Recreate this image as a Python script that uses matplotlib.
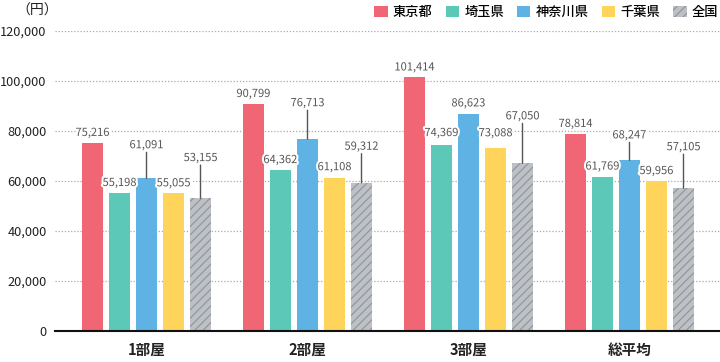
import matplotlib
matplotlib.use("Agg")
import matplotlib.pyplot as plt
import matplotlib.patheffects as pe
from matplotlib.patches import Patch
import numpy as np

plt.rcParams['font.family'] = ['Noto Sans CJK JP', 'DejaVu Sans']
plt.rcParams['hatch.linewidth'] = 0.8

categories = ['1部屋', '2部屋', '3部屋', '総平均']
series_names = ['東京都', '埼玉県', '神奈川県', '千葉県', '全国']
tokyo = [75216, 90799, 101414, 78814]
saitama = [55198, 64362, 74369, 61769]
kanagawa = [61091, 76713, 86623, 68247]
chiba = [55055, 61108, 73088, 59956]
national = [53155, 59312, 67050, 57105]
values = [tokyo, saitama, kanagawa, chiba, national]
yticks = [0, 20000, 40000, 60000, 80000, 100000, 120000]

colors = ['#F06674', '#5CC8B8', '#5EB3E4', '#FFD45A', '#BDC1C6']
hatches = [None, None, None, None, '////']
# label offset above bar top (pixels), per series x category
label_off = [
    [10, 10, 10, 10],
    [10, 10, 12, 10],
    [33, 36, 11, 25],
    [10, 11, 15, 10],
    [40, 36, 47, 41],
]

fig = plt.figure(figsize=(7.2, 3.62), dpi=100)
ax = fig.add_axes([55/720, 1-331/362, 665/720, 300/362])

step = 27/161
width = 21/161
x = np.arange(len(categories))
pt = 0.72  # points per pixel
for i, (vals, c, h) in enumerate(zip(values, colors, hatches)):
    pos = x + (i - 2) * step
    if h:
        ax.bar(pos, vals, width=width, color=c, hatch=h, edgecolor='#8E939A',
               linewidth=0, zorder=3)
    else:
        ax.bar(pos, vals, width=width, color=c, linewidth=0, zorder=3)
    for j, (p, v) in enumerate(zip(pos, vals)):
        off = label_off[i][j]
        ax.annotate(f'{v:,}', (p, v), xytext=(0, off*pt), textcoords='offset points',
                    ha='center', va='center', fontsize=8, color='#555555', zorder=5,
                    path_effects=[pe.withStroke(linewidth=3, foreground='white')])
        if off > 18:
            ax.annotate('', (p, v), xytext=(0, (off-7)*pt), textcoords='offset points',
                        arrowprops=dict(arrowstyle='-', color='#555555', lw=1,
                                        shrinkA=0, shrinkB=0), zorder=4)

ax.set_xlim(-91.5/161, (720-146.5)/161)
ax.set_ylim(0, 120000)
ax.set_yticks(yticks)
ax.set_yticklabels([f'{t:,}' for t in yticks], fontsize=9.2, color='#222222')
ax.set_xticks(x)
ax.set_xticklabels(categories, fontsize=10.5, fontweight='bold', color='#222222')
ax.tick_params(axis='both', length=0)
ax.tick_params(axis='x', pad=8)
ax.tick_params(axis='y', pad=6)
for s in ['top', 'right', 'left']:
    ax.spines[s].set_visible(False)
ax.spines['bottom'].set_color('#111111')
ax.spines['bottom'].set_linewidth(1.5)
ax.spines['bottom'].set_zorder(6)
for t in yticks[1:]:
    ax.axhline(t, color='#AAAAAA', lw=0.9, ls=(0, (1, 1.5)), zorder=1)

fig.text(37/720, 1-11/362, '（円）', ha='center', va='center', fontsize=10, color='#222222')

handles = [Patch(facecolor=c, hatch=h, edgecolor='#8E939A' if h else c, linewidth=0)
           for c, h in zip(colors, hatches)]
fig.legend(handles, series_names, loc='center right', bbox_to_anchor=(1.005, 1-12/362),
           ncol=5, frameon=False, handlelength=1.0, handleheight=1.0,
           handletextpad=0.4, columnspacing=1.0, borderaxespad=0,
           prop=dict(family=['Noto Sans CJK JP'], size=9.5, weight='medium'))

fig.savefig('out.png', dpi=100)
